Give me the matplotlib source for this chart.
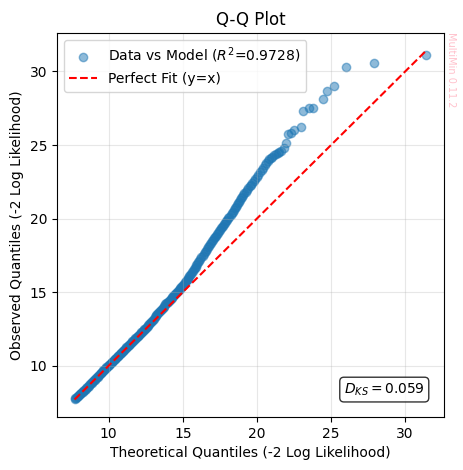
import matplotlib
matplotlib.use("Agg")
import matplotlib.pyplot as plt

# theoretical vs observed quantiles (-2 log likelihood)
theo_q = [
    7.70, 7.75, 7.80, 7.85, 7.90, 7.95, 8.00, 8.05, 8.10, 8.15,
    8.20, 8.25, 8.30, 8.35, 8.40, 8.45, 8.50, 8.55, 8.60, 8.65,
    8.70, 8.75, 8.80, 8.85, 8.90, 8.95, 9.00, 9.05, 9.10, 9.15,
    9.20, 9.25, 9.30, 9.35, 9.40, 9.45, 9.50, 9.55, 9.60, 9.65,
    9.70, 9.75, 9.80, 9.85, 9.90, 9.95, 10.00, 10.05, 10.10, 10.15,
    10.20, 10.25, 10.30, 10.35, 10.40, 10.45, 10.50, 10.55, 10.60, 10.65,
    10.70, 10.75, 10.80, 10.85, 10.90, 10.95, 11.00, 11.05, 11.10, 11.15,
    11.20, 11.25, 11.30, 11.35, 11.40, 11.45, 11.50, 11.55, 11.60, 11.65,
    11.70, 11.75, 11.80, 11.85, 11.90, 11.95, 12.00, 12.05, 12.10, 12.15,
    12.20, 12.25, 12.30, 12.35, 12.40, 12.45, 12.50,
    12.56, 12.62, 12.68, 12.74, 12.80, 12.86, 12.92, 12.98, 13.04, 13.10,
    13.16, 13.22, 13.28, 13.34, 13.40, 13.46, 13.52, 13.58, 13.64, 13.70,
    13.76, 13.82, 13.88, 13.94, 14.00, 14.06, 14.12, 14.18, 14.24, 14.30,
    14.36, 14.42, 14.48, 14.54, 14.60, 14.66, 14.72, 14.78, 14.84, 14.90,
    14.96, 15.02, 15.08, 15.14, 15.20, 15.26, 15.32, 15.38, 15.44, 15.50,
    15.56, 15.62, 15.68, 15.74, 15.80, 15.86, 15.92, 15.98,
    16.05, 16.12, 16.19, 16.26, 16.33, 16.40, 16.47, 16.54, 16.61, 16.68,
    16.75, 16.82, 16.89, 16.96, 17.03, 17.10, 17.17, 17.24, 17.31, 17.38,
    17.45, 17.52, 17.59, 17.66, 17.73, 17.80, 17.87, 17.94, 18.01, 18.08,
    18.15, 18.22, 18.29, 18.36, 18.43, 18.50, 18.57, 18.64, 18.71, 18.78,
    18.85, 18.92, 18.99, 19.06,
    19.14, 19.23, 19.32, 19.41, 19.50, 19.59, 19.68, 19.78, 19.88, 19.98,
    20.09, 20.20, 20.31, 20.42, 20.53, 20.64, 20.75,
    20.84, 20.95, 21.05, 21.18, 21.30, 21.40, 21.52, 21.63, 21.81, 21.97,
    22.08, 22.30, 22.53, 22.97, 23.13, 23.53, 23.76, 24.43, 24.70, 25.22,
    25.98, 27.87, 31.43,
]
obs_q = [
    7.74, 7.79, 7.83, 7.88, 7.92, 7.97, 8.01, 8.06, 8.10, 8.14,
    8.19, 8.24, 8.28, 8.33, 8.38, 8.43, 8.48, 8.53, 8.58, 8.63,
    8.68, 8.74, 8.79, 8.84, 8.89, 8.95, 9.00, 9.05, 9.11, 9.16,
    9.21, 9.26, 9.32, 9.37, 9.42, 9.47, 9.52, 9.58, 9.63, 9.68,
    9.73, 9.78, 9.83, 9.88, 9.93, 9.98, 10.03, 10.08, 10.13, 10.18,
    10.23, 10.28, 10.33, 10.38, 10.43, 10.48, 10.53, 10.58, 10.63, 10.68,
    10.73, 10.78, 10.83, 10.88, 10.93, 10.98, 11.03, 11.08, 11.14, 11.19,
    11.24, 11.29, 11.34, 11.39, 11.44, 11.49, 11.54, 11.59, 11.65, 11.70,
    11.75, 11.80, 11.85, 11.90, 11.95, 12.00, 12.05, 12.10, 12.16, 12.21,
    12.26, 12.31, 12.37, 12.42, 12.47, 12.52, 12.57,
    12.62, 12.68, 12.75, 12.82, 12.89, 12.97, 13.05, 13.13, 13.20, 13.28,
    13.36, 13.43, 13.51, 13.59, 13.67, 13.74, 13.81, 13.88, 13.95, 14.02,
    14.09, 14.16, 14.23, 14.29, 14.36, 14.42, 14.49, 14.56, 14.63, 14.69,
    14.76, 14.82, 14.89, 14.95, 15.02, 15.09, 15.16, 15.23, 15.30, 15.37,
    15.44, 15.51, 15.58, 15.66, 15.74, 15.82, 15.90, 15.99, 16.07, 16.16,
    16.25, 16.34, 16.44, 16.54, 16.64, 16.74, 16.83, 16.93,
    17.04, 17.15, 17.26, 17.38, 17.49, 17.60, 17.71, 17.82, 17.93, 18.04,
    18.15, 18.26, 18.37, 18.47, 18.57, 18.66, 18.76, 18.85, 18.95, 19.04,
    19.14, 19.23, 19.33, 19.42, 19.52, 19.62, 19.72, 19.82, 19.92, 20.02,
    20.13, 20.24, 20.35, 20.46, 20.58, 20.69, 20.81, 20.92, 21.04, 21.15,
    21.27, 21.38, 21.49, 21.60,
    21.71, 21.83, 21.95, 22.07, 22.19, 22.31, 22.43, 22.56, 22.70, 22.84,
    22.99, 23.15, 23.31, 23.47, 23.62, 23.77, 23.92,
    24.04, 24.12, 24.20, 24.33, 24.40, 24.45, 24.52, 24.60, 24.83, 25.17,
    25.73, 25.82, 26.00, 26.23, 27.31, 27.49, 27.49, 28.12, 28.65, 29.03,
    30.29, 30.61, 31.15,
]
r2 = 0.9728
d_ks = 0.059

fig = plt.figure(figsize=(4.64, 4.70), dpi=100)
ax = fig.add_axes([0.1228, 0.1128, 0.834, 0.817])

ax.scatter(theo_q, obs_q, alpha=0.5, label=f"Data vs Model ($R^2$={r2})")
lo = min(min(theo_q), min(obs_q))
hi = max(max(theo_q), max(obs_q))
ax.plot([lo, hi], [lo, hi], "r--", lw=1.5, label="Perfect Fit (y=x)")

ax.set_title("Q-Q Plot")
ax.set_xlabel("Theoretical Quantiles (-2 Log Likelihood)")
ax.set_ylabel("Observed Quantiles (-2 Log Likelihood)")
ax.legend(loc="upper left")
ax.grid(alpha=0.3)

ax.text(0.95, 0.05, f"$D_{{KS}} = {d_ks}$", transform=ax.transAxes,
        ha="right", va="bottom",
        bbox=dict(boxstyle="round,pad=0.3", fc="white", ec="black", alpha=0.8))

fig.text(0.972, 0.932, "MultiMin 0.11.2", rotation=270, ha="center", va="top",
         fontsize=7, color="pink")

fig.savefig("out.png", dpi=100)
